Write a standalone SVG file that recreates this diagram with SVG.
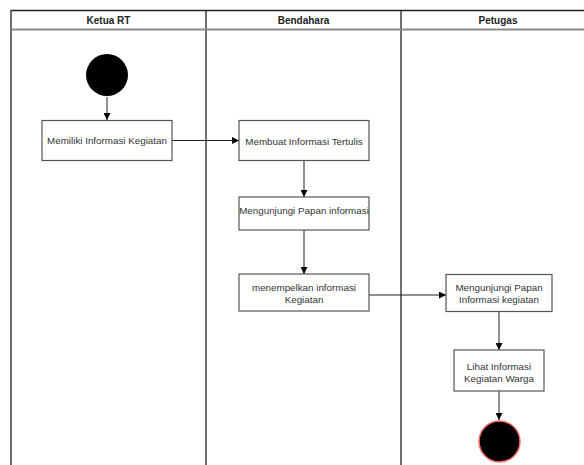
<svg xmlns="http://www.w3.org/2000/svg" width="584" height="465" viewBox="0 0 584 465">
<style>
.lane{fill:none;stroke:#222;stroke-width:1.3}
.sep{stroke:#8a8a8a;stroke-width:2}
.hdr{font-family:"Liberation Sans",Arial,sans-serif;font-size:10px;font-weight:bold;fill:#222;text-anchor:middle}
.box{fill:#fff;stroke:#555;stroke-width:1.2}
.txt{font-family:"Liberation Sans",Arial,sans-serif;font-size:9.8px;fill:#333;text-anchor:middle}
.edge{fill:none;stroke:#222;stroke-width:1}
</style>
<defs>
<marker id="ah" viewBox="0 0 10 10" refX="10" refY="5" markerWidth="7" markerHeight="7" markerUnits="userSpaceOnUse" orient="auto">
<path d="M0,0 L10,5 L0,10 Z" fill="#000"/>
</marker>
</defs>
<rect width="584" height="465" fill="#fff"/>
<g id="pool">
<path class="lane" d="M11,465 V10.5 H590"/>
<line class="lane" x1="206" y1="10.5" x2="206" y2="465"/>
<line class="lane" x1="401" y1="10.5" x2="401" y2="465"/>
<line class="sep" x1="11" y1="29.5" x2="590" y2="29.5"/>
<text class="hdr" x="108.5" y="23.5">Ketua RT</text>
<text class="hdr" x="303.5" y="23.5">Bendahara</text>
<text class="hdr" x="498" y="23.5">Petugas</text>
</g>
<g id="edges">
<line class="edge" x1="107" y1="97" x2="107" y2="120" marker-end="url(#ah)"/>
<line class="edge" x1="172" y1="140.5" x2="239" y2="140.5" marker-end="url(#ah)"/>
<line class="edge" x1="304" y1="160" x2="304" y2="197" marker-end="url(#ah)"/>
<line class="edge" x1="304" y1="230" x2="304" y2="274" marker-end="url(#ah)"/>
<line class="edge" x1="369" y1="295" x2="446" y2="295" marker-end="url(#ah)"/>
<line class="edge" x1="499" y1="311.5" x2="499" y2="350" marker-end="url(#ah)"/>
<line class="edge" x1="499" y1="391" x2="499" y2="420" marker-end="url(#ah)"/>
</g>
<g id="start">
<circle cx="107" cy="75" r="21" fill="#000"/>
</g>
<g id="n1">
<rect class="box" x="42" y="120.5" width="130" height="40"/>
<text class="txt" x="107" y="144">Memiliki Informasi Kegiatan</text>
</g>
<g id="n2">
<rect class="box" x="239" y="120.5" width="130" height="40"/>
<text class="txt" x="304" y="144.5">Membuat Informasi Tertulis</text>
</g>
<g id="n3">
<rect class="box" x="239" y="197" width="130" height="33"/>
<text class="txt" x="304" y="213.5">Mengunjungi Papan informasi</text>
</g>
<g id="n4">
<rect class="box" x="239" y="274" width="130" height="37"/>
<text class="txt" x="304" y="291">menempelkan informasi</text>
<text class="txt" x="304" y="303">Kegiatan</text>
</g>
<g id="n5">
<rect class="box" x="446" y="274.5" width="106" height="37"/>
<text class="txt" x="499" y="290.5">Mengunjungi Papan</text>
<text class="txt" x="499" y="302.5">Informasi kegiatan</text>
</g>
<g id="n6">
<rect class="box" x="454" y="350" width="90" height="41"/>
<text class="txt" x="499" y="369.5">Lihat Informasi</text>
<text class="txt" x="499" y="381.5">Kegiatan Warga</text>
</g>
<g id="end">
<circle cx="499.5" cy="441.5" r="20.5" fill="#000" stroke="#ff6b6b" stroke-width="1.5"/>
</g>
</svg>
